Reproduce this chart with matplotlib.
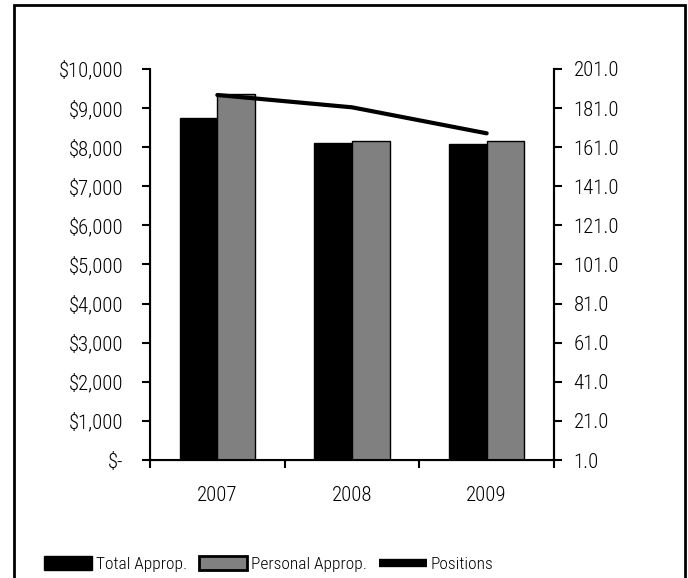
import matplotlib.pyplot as plt
from matplotlib.patches import Patch, Rectangle
from matplotlib.lines import Line2D
from matplotlib.ticker import FuncFormatter

# font close to the condensed look of the original
plt.rcParams['font.family'] = ['Roboto Condensed', 'Roboto', 'DejaVu Sans']
plt.rcParams['font.size'] = 15
plt.rcParams['font.weight'] = 'light'

# data
years = ["2007", "2008", "2009"]
total_approp = [8740, 8120, 8080]
personal_approp = [9350, 8165, 8165]
positions = [187.7, 181.4, 168.1]

fig = plt.figure(figsize=(6.88, 5.78), dpi=100)
ax = fig.add_axes([150 / 688, 1 - 460 / 578, (554 - 150) / 688, (460 - 69) / 578])

x = list(range(len(years)))
w = 0.28
ax.bar([i - w / 2 for i in x], total_approp, w, color="black", edgecolor="black", linewidth=1)
ax.bar([i + w / 2 for i in x], personal_approp, w, color="#808080", edgecolor="black", linewidth=1)

ax.set_xlim(-0.5, 2.5)
ax.set_ylim(0, 10000)
ax.set_yticks(range(0, 10001, 1000))
ax.yaxis.set_major_formatter(FuncFormatter(lambda v, p: "$-" if v == 0 else "${:,.0f}".format(v)))

ax.set_xticks(x)
ax.set_xticklabels(years)
ax.set_xticks([-0.5, 0.5, 1.5, 2.5], minor=True)
ax.tick_params(axis="x", which="major", length=0, pad=19)
ax.tick_params(axis="x", which="minor", length=6, width=1.5, direction="out")
ax.tick_params(axis="y", length=6, width=1.5, direction="out", pad=13)

ax.spines["top"].set_visible(False)
for s in ["left", "right", "bottom"]:
    ax.spines[s].set_linewidth(1.5)

# positions on the right axis
ax2 = ax.twinx()
ax2.plot(x, positions, color="black", linewidth=3, solid_capstyle="round")
ax2.set_ylim(1, 201)
ax2.set_yticks(range(1, 202, 20))
ax2.yaxis.set_major_formatter(FuncFormatter(lambda v, p: "{:.1f}".format(v)))
ax2.tick_params(axis="y", length=6, width=1.5, direction="out", pad=8)
ax2.spines["top"].set_visible(False)
ax2.spines["right"].set_linewidth(1.5)

# legend along the bottom
handles = [
    Patch(facecolor="black", edgecolor="black"),
    Patch(facecolor="#808080", edgecolor="black", linewidth=2),
    Line2D([0], [0], color="black", linewidth=6, solid_capstyle="butt"),
]
fig.legend(handles, ["Total Approp.", "Personal Approp.", "Positions"],
           loc="center left", bbox_to_anchor=(44 / 688, 1 - 564 / 578), ncol=3,
           frameon=False, borderpad=0, borderaxespad=0, fontsize=12.5,
           handlelength=2.76, handleheight=0.92, handletextpad=0.23, columnspacing=0.69)

# outer frame
fig.patches.append(Rectangle((14 / 688, -0.05), (685 - 14) / 688, 1.05 - 5 / 578,
                             fill=False, edgecolor="black", linewidth=2,
                             transform=fig.transFigure, clip_on=False))

fig.savefig("out.png", dpi=100)
